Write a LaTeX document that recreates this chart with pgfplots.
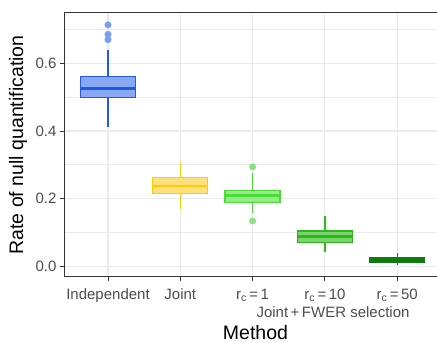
\documentclass[border=0pt]{standalone}
\usepackage{pgfplots}
\pgfplotsset{compat=1.18}
\usepgfplotslibrary{statistics}
\usepackage{fontspec}
\setmainfont{Liberation Sans}
\definecolor{gridc}{HTML}{EBEBEB}
\definecolor{axc}{HTML}{333333}
\definecolor{tickc}{HTML}{4D4D4D}
\definecolor{indE}{HTML}{1F5BE6}
\definecolor{indF}{HTML}{88A8F4}
\definecolor{indO}{HTML}{7A9EF2}
\definecolor{joE}{HTML}{FFCC00}
\definecolor{joF}{HTML}{FFE07F}
\definecolor{r1E}{HTML}{4CDA38}
\definecolor{r1F}{HTML}{96EA88}
\definecolor{r1O}{HTML}{8EE283}
\definecolor{r10E}{HTML}{2CB81C}
\definecolor{r10F}{HTML}{7AD46C}
\definecolor{r50E}{HTML}{0F7A0F}
\begin{document}
\begin{tikzpicture}
\begin{axis}[name=ax, scale only axis, width=372.5pt, height=264pt,
  xmin=-0.6017, xmax=4.55, ymin=-0.0316, ymax=0.749,
  clip=false,
  xtick={0,1,2,3,4},
  xticklabels={Independent, Joint, r\textsubscript{c}\,=\,1, r\textsubscript{c}\,=\,10, r\textsubscript{c}\,=\,50},
  ytick={0,0.2,0.4,0.6}, minor ytick={0.1,0.3,0.5,0.7},
  yticklabel style={/pgf/number format/.cd, fixed, fixed zerofill, precision=1, assume math mode=true},
  tick label style={font=\fontsize{15}{18}\selectfont, text=tickc},
  xticklabel style={anchor=base, yshift=-18pt},
  axis x line*=bottom, axis y line*=left,
  axis line style={axc, line width=1pt, -},
  tick pos=left, tick align=outside, major tick length=4.5pt, minor tick length=0pt,
  tick style={axc, line width=1pt},
  grid=both, major grid style={gridc, line width=1.1pt}, minor grid style={gridc, line width=0.7pt},
  boxplot/draw direction=y,
  boxplot/whisker extend=0,
  boxplot/every median/.style={line width=2.6pt},
]
\addplot[boxplot prepared={lower whisker=0.413, lower quartile=0.4996, median=0.525, upper quartile=0.5616, upper whisker=0.639, draw position=0, box extend=0.76},
  draw=indE, fill=indF, line width=1.3pt, solid, mark=*, mark size=3.3pt, mark options={solid, draw=indO, fill=indO, line width=0.3pt}]
  table[row sep=\\, y index=0] {y\\ 0.714\\ 0.686\\ 0.670\\};
\addplot[boxplot prepared={lower whisker=0.169, lower quartile=0.216, median=0.238, upper quartile=0.263, upper whisker=0.3075, draw position=1, box extend=0.76},
  draw=joE, fill=joF, line width=1.3pt, solid] coordinates {};
\addplot[boxplot prepared={lower whisker=0.159, lower quartile=0.188, median=0.209, upper quartile=0.224, upper whisker=0.277, draw position=2, box extend=0.76},
  draw=r1E, fill=r1F, line width=1.3pt, solid, mark=*, mark size=3.3pt, mark options={solid, draw=r1O, fill=r1O, line width=0.3pt}]
  table[row sep=\\, y index=0] {y\\ 0.294\\ 0.134\\};
\addplot[boxplot prepared={lower whisker=0.041, lower quartile=0.071, median=0.0877, upper quartile=0.104, upper whisker=0.149, draw position=3, box extend=0.76},
  draw=r10E, fill=r10F, line width=1.3pt, solid] coordinates {};
\addplot[boxplot prepared={lower whisker=0.004, lower quartile=0.0106, median=0.0186, upper quartile=0.0254, upper whisker=0.038, draw position=4, box extend=0.76},
  draw=r50E, fill=r50E, line width=1.3pt, solid] coordinates {};
\draw[axc, line width=1pt] (rel axis cs:0,1) -- (rel axis cs:1,1);
\end{axis}
\node[rotate=90, font=\fontsize{19.5}{23}\selectfont] at ([xshift=-46.5pt]ax.west) {Rate of null quantification};
\node[anchor=base, font=\fontsize{19.5}{23}\selectfont] at ([xshift=191pt, yshift=-63pt]ax.south west) {Method};
\node[anchor=base, font=\fontsize{15}{18}\selectfont, text=tickc] at ([xshift=268.5pt, yshift=-40.5pt]ax.south west) {Joint\,+\,FWER selection};
\pgfresetboundingbox
\path[use as bounding box] ([xshift=-64.5pt,yshift=-66pt]ax.south west) rectangle ([yshift=13pt]ax.north east);
\end{tikzpicture}
\end{document}
